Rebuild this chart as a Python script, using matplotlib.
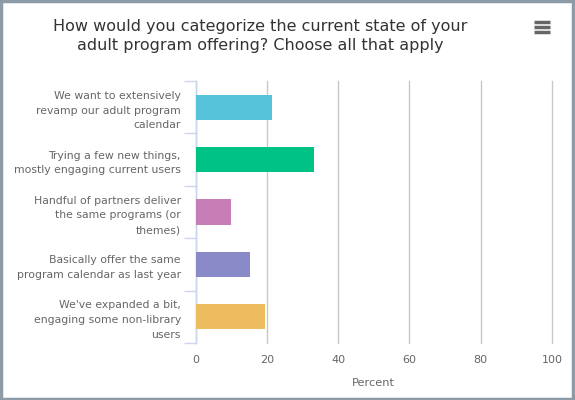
import matplotlib
matplotlib.use("Agg")
import matplotlib.pyplot as plt
from matplotlib.lines import Line2D
from matplotlib.patches import Rectangle

categories = [
    "We want to extensively\nrevamp our adult program\ncalendar",
    "Trying a few new things,\nmostly engaging current users",
    "Handful of partners deliver\nthe same programs (or\nthemes)",
    "Basically offer the same\nprogram calendar as last year",
    "We've expanded a bit,\nengaging some non-library\nusers",
]
values = [21.5, 33.3, 10.0, 15.3, 19.6]
colors = ["#56c3db", "#00c285", "#c77db5", "#8a8ac8", "#ecbc5e"]
x_ticks = [0, 20, 40, 60, 80, 100]
title = "How would you categorize the current state of your\nadult program offering? Choose all that apply"
x_label = "Percent"

plt.rcParams['font.family'] = ['DejaVu Sans']
fig = plt.figure(figsize=(5.75, 4.0), dpi=100)
ax = fig.add_axes([195.5/575, 1-343/400, (552-195.5)/575, (343-81)/400])

ypos = list(range(len(categories)))
ax.barh(ypos, values, height=0.48, color=colors, zorder=3)
ax.set_ylim(len(categories)-0.5, -0.5)
ax.set_xlim(0, 100)
ax.set_xticks(x_ticks)
ax.set_xticklabels([str(t) for t in x_ticks], fontsize=8.0, color="#666666")
ax.tick_params(axis='x', length=0, pad=8.5)
ax.set_yticks(ypos)
ax.set_yticklabels(categories, fontsize=7.8, color="#666666", linespacing=1.6)
ax.tick_params(axis='y', length=0, pad=10.5)
# category boundary ticks
ax.set_yticks([i - 0.5 for i in range(len(categories)+1)], minor=True)
ax.tick_params(axis='y', which='minor', length=9, color="#ccd6eb", width=1)
ax.grid(axis='x', color="#c8c8c8", linewidth=1, zorder=0)
for gl in ax.get_xgridlines():
    gl.set_clip_on(False)
for s in ['top', 'right', 'bottom']:
    ax.spines[s].set_visible(False)
ax.spines['left'].set_color("#ccd6eb")
ax.spines['left'].set_linewidth(1)
ax.set_xlabel(x_label, fontsize=8.2, color="#666666", labelpad=9.5)

fig.text(260/575, 1-36/400, title, ha='center', va='center', fontsize=11.5,
         color="#333333", linespacing=1.35)

# menu icon
for yy in [22, 27, 32]:
    fig.add_artist(Line2D([534/575, 550/575], [1-yy/400, 1-yy/400], color="#666666",
                          linewidth=2.5, solid_capstyle='butt'))

# border
fig.add_artist(Rectangle((0.0015, 0.003), 0.995, 0.994, transform=fig.transFigure,
                         fill=False, edgecolor="#8c9ba6", linewidth=2.5))

fig.savefig("out.png", dpi=100)
